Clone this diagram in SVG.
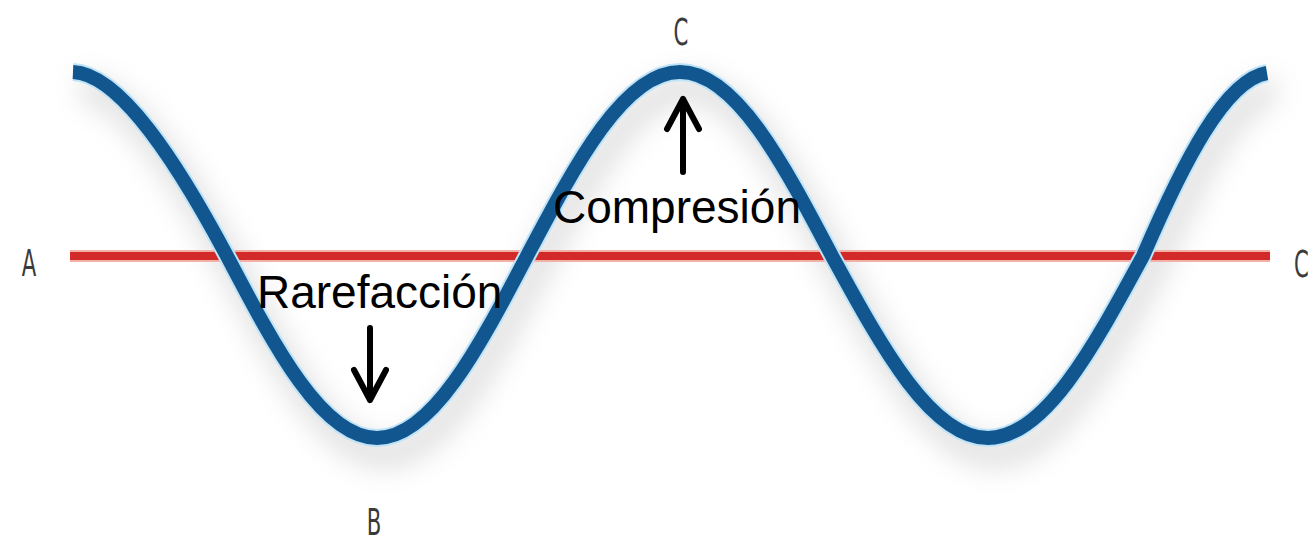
<svg xmlns="http://www.w3.org/2000/svg" width="1311" height="543" viewBox="0 0 1311 543">
  <style>
    .letter { font-family: "DejaVu Sans Condensed", "Liberation Sans", sans-serif; font-size: 38px; fill: #3a3a3a; }
    .label { font-family: "Liberation Sans", Arial, sans-serif; font-size: 46px; fill: #000; }
    .arrow { fill: none; stroke: #000; stroke-width: 6; stroke-linecap: round; stroke-linejoin: round; }
  </style>
  <defs>
    <filter id="shadow" x="-10%" y="-20%" width="120%" height="150%">
      <feGaussianBlur stdDeviation="14"/>
    </filter>
    <path id="wave" d="M73,72 C120,74 176.8,161.8 227,256 C275.9,349.2 322.7,438 377,438 C431.3,438 478.1,349.2 527,256 C576.9,161.8 624.6,72 680,72 C735,72 782.4,161.8 832,256 C882.9,349.2 931.5,438 988,438 C1044.1,438 1092.5,349.2 1143,256 C1183.4,162.3 1225,80 1267,73"/>
  </defs>
  <rect width="1311" height="543" fill="#ffffff"/>
  <g id="shadows">
    <use href="#wave" transform="translate(8,16)" fill="none" stroke="#b8b8b8" stroke-width="26" opacity="0.45" filter="url(#shadow)"/>
  </g>
  <g id="axis">
    <line x1="70" y1="256" x2="1270" y2="256" stroke="#f3b0a8" stroke-width="12"/>
    <line x1="70" y1="256" x2="1270" y2="256" stroke="#d22a28" stroke-width="8"/>
  </g>
  <g id="wave-curve">
    <use href="#wave" fill="none" stroke="#bfe3f7" stroke-width="18"/>
    <use href="#wave" fill="none" stroke="#11568f" stroke-width="14"/>
  </g>
  <g id="point-labels">
    <text class="letter" transform="translate(29,276) scale(0.62,1)" text-anchor="middle">A</text>
    <text class="letter" transform="translate(681,45) scale(0.62,1)" text-anchor="middle">C</text>
    <text class="letter" transform="translate(374,535) scale(0.62,1)" text-anchor="middle">B</text>
    <text class="letter" transform="translate(1294,277) scale(0.62,1)">C</text>
  </g>
  <g id="compresion">
    <text class="label" x="553" y="223">Compresión</text>
  </g>
  <g id="rarefaccion">
    <text class="label" x="257" y="308">Rarefacción</text>
  </g>
  <g id="connectors">
    <path class="arrow" d="M683,172 L683,99 M667,129 L683,99 L699,129"/>
    <path class="arrow" d="M370,328 L370,400 M354,370 L370,400 L386,370"/>
  </g>
</svg>
